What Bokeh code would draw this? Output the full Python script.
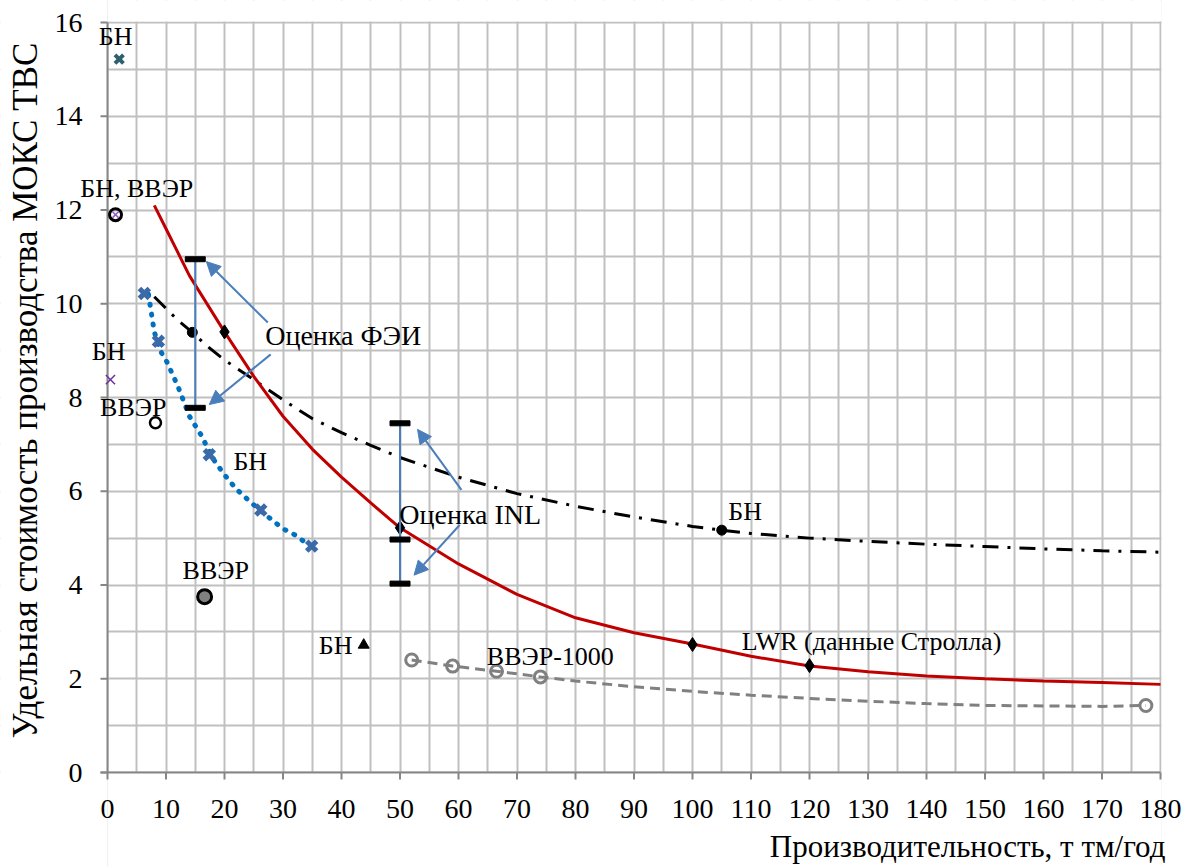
import math
from bokeh.plotting import figure
from bokeh.models import FixedTicker, Arrow, NormalHead, Label
from bokeh.core.properties import value
from bokeh.embed import file_html
from bokeh.resources import INLINE

FONT = "Liberation Serif"

# --- data ---
red_x = [8, 10, 12, 14, 16, 18, 20, 25, 30, 35, 40, 45, 50, 60, 70, 80, 90, 100, 110, 120, 130, 140, 150, 160, 170, 180]
red_y = [12.1, 11.6, 11.1, 10.6, 10.2, 9.8, 9.4, 8.45, 7.6, 6.9, 6.3, 5.75, 5.22, 4.45, 3.8, 3.3, 2.98, 2.74, 2.48, 2.27, 2.15, 2.06, 2.0, 1.95, 1.92, 1.88]
lwr_x = [20, 50, 100, 120]
lwr_y = [9.4, 5.22, 2.73, 2.28]

bn_x = [8, 10, 12, 14.5, 17, 20, 25, 30, 35, 40, 45, 50, 60, 70, 80, 90, 100, 105, 110, 120, 130, 140, 150, 160, 170, 180]
bn_y = [10.15, 9.9, 9.65, 9.39, 9.1, 8.8, 8.38, 7.95, 7.55, 7.25, 6.98, 6.72, 6.3, 5.95, 5.68, 5.45, 5.25, 5.17, 5.1, 5.0, 4.93, 4.87, 4.82, 4.77, 4.73, 4.70]
bn_pts_x = [14.5, 105]
bn_pts_y = [9.39, 5.17]

blue_x = [7, 8, 9, 10, 12, 14, 16, 18, 20, 22, 24, 26, 28, 30, 32, 34.5]
blue_y = [10.2, 9.4, 9.0, 8.8, 8.25, 7.6, 7.2, 6.7, 6.35, 6.05, 5.82, 5.6, 5.4, 5.2, 5.07, 4.85]
blue_pts_x = [6.3, 8.7, 17.4, 26.2, 34.9]
blue_pts_y = [10.22, 9.2, 6.78, 5.6, 4.83]

vver_x = [52, 59, 66.5, 74, 80, 90, 100, 110, 120, 130, 140, 150, 160, 170, 177.5]
vver_y = [2.4, 2.27, 2.16, 2.04, 1.95, 1.83, 1.73, 1.65, 1.58, 1.52, 1.47, 1.43, 1.42, 1.41, 1.43]
vver_pts_x = [52, 59, 66.5, 74, 177.5]
vver_pts_y = [2.4, 2.27, 2.16, 2.04, 1.43]

# single points
bn_star = (2.0, 15.22)
bn_vver_pt = (1.37, 11.9)
bn_cross = (0.5, 8.38)
vver_open = (8.2, 7.46)
vver_grey = (16.6, 3.75)
bn_tri = (43.8, 2.72)

# estimate ranges
fei_x = 15
fei_vals = [7.78, 10.95]
inl_x = 50
inl_vals = [4.03, 4.97, 7.45]

x_ticks = list(range(0, 181, 10))
x_minor = list(range(0, 181, 5))
y_ticks = list(range(0, 17, 2))
y_minor = list(range(0, 17, 1))
x_tick_labels = [str(v) for v in x_ticks]
y_tick_labels = [str(v) for v in y_ticks]

x_title = "Производительность, т тм/год"
y_title = "Удельная стоимость производства МОКС ТВС"

XMIN, XMAX, YMIN, YMAX = 0, 180, 0, 16

# --- geometry (pixels) ---
W, H = 1185, 866
LEFT, RIGHT, TOP, BOTTOM = 107, 1160, 22, 772
PPU = (RIGHT - LEFT) / (XMAX - XMIN)
PPY = (BOTTOM - TOP) / (YMAX - YMIN)
X0 = XMIN - LEFT / PPU
X1 = XMAX + (W - RIGHT) / PPU
Y1 = YMAX + TOP / PPY
Y0 = YMIN - (H - BOTTOM) / PPY
TX = 7 / PPU
TY = 7 / PPY

p = figure(frame_width=W, frame_height=H, x_range=(X0, X1), y_range=(Y0, Y1),
           output_backend="svg", toolbar_location=None,
           min_border_left=0, min_border_right=0, min_border_top=0, min_border_bottom=0)
p.outline_line_color = None
p.background_fill_color = "white"
p.xaxis.visible = False
p.yaxis.visible = False

GRID = "#c0c0c0"
AXC = "#868686"
p.xgrid[0].ticker = FixedTicker(ticks=x_minor)
p.ygrid[0].ticker = FixedTicker(ticks=y_minor)
for g in (p.xgrid[0], p.ygrid[0]):
    g.grid_line_color = GRID
    g.grid_line_width = 2

# blank everything outside the plotting area
e1, e2 = 1 / PPU, 1 / PPY
p.quad(left=[X0, XMAX + e1, XMIN, XMIN], right=[XMIN, X1, XMAX + e1, XMAX + e1],
       bottom=[Y0, Y0, YMAX + e2, Y0], top=[Y1, Y1, Y1, YMIN],
       fill_color="white", line_color=None)

# axes
p.segment([XMIN, -TX], [YMIN, YMIN], [XMIN, XMAX], [YMAX, YMIN], line_color=AXC, line_width=2)
p.segment([-TX] * len(y_ticks), y_ticks, [XMIN] * len(y_ticks), y_ticks, line_color=AXC, line_width=2)
p.segment(x_ticks, [-TY] * len(x_ticks), x_ticks, [YMIN] * len(x_ticks), line_color=AXC, line_width=2)
p.text([-25 / PPU] * len(y_ticks), y_ticks, text=y_tick_labels, text_font=value(FONT),
       text_font_size="28px", text_align="right", text_baseline="middle", text_color="black")
p.text(x_ticks, [-36 / PPY] * len(x_ticks), text=x_tick_labels, text_font=value(FONT),
       text_font_size="28px", text_align="center", text_baseline="middle", text_color="black")
p.add_layout(Label(x=(25 - LEFT) / PPU, y=(BOTTOM - 390) / PPY, text=y_title, angle=math.pi / 2,
                   text_font=FONT, text_font_size="35px", text_align="center",
                   text_baseline="middle", text_color="black"))
p.add_layout(Label(x=(1165 - LEFT) / PPU, y=(BOTTOM - 846) / PPY, text=x_title,
                   text_font=FONT, text_font_size="31px", text_align="right",
                   text_baseline="middle", text_color="black"))

# curves
p.line(vver_x, vver_y, line_color="#808080", line_width=3, line_dash="10 6")
p.scatter(vver_pts_x, vver_pts_y, marker="circle", size=12, line_color="#808080",
          line_width=3, fill_alpha=0)

p.line(blue_x, blue_y, line_color="#0070c0", line_width=5, line_dash="1 9", line_cap="round")
p.scatter(blue_pts_x, blue_pts_y, marker="x", size=14, line_color="#3a6aa8", line_width=5)

p.line(bn_x, bn_y, line_color="black", line_width=3, line_dash="16 9 3 9")
p.scatter(bn_pts_x, bn_pts_y, marker="circle", size=10, color="black")

p.line(red_x, red_y, line_color="#c00000", line_width=3)
p.scatter(lwr_x, lwr_y, marker="diamond", size=14, color="black")

# error-bar style estimates
BLUE = "#4a7ebb"
p.segment([fei_x, inl_x], [fei_vals[0], inl_vals[0]], [fei_x, inl_x], [fei_vals[-1], inl_vals[-1]],
          line_color=BLUE, line_width=2)
cap_x = [fei_x] * len(fei_vals) + [inl_x] * len(inl_vals)
cap_y = fei_vals + inl_vals
p.rect(cap_x, cap_y, width=20, height=5, width_units="screen", height_units="screen",
       color="black")

# single markers
p.scatter([bn_star[0]], [bn_star[1]], marker="x", size=12, line_color="#2e6170", line_width=4)
p.scatter([bn_vver_pt[0]], [bn_vver_pt[1]], marker="circle", size=12, line_color="black",
          line_width=3, fill_alpha=0)
p.scatter([bn_vver_pt[0]], [bn_vver_pt[1]], marker="x", size=9, line_color="#8e5cc9", line_width=1.5)
p.scatter([bn_cross[0]], [bn_cross[1]], marker="x", size=13, line_color="#7030a0", line_width=1.5)
p.scatter([vver_open[0]], [vver_open[1]], marker="circle", size=11, line_color="black",
          line_width=2.5, fill_color="white")
p.scatter([vver_grey[0]], [vver_grey[1]], marker="circle", size=14, line_color="black",
          line_width=3, fill_color="#808080")
p.scatter([bn_tri[0]], [bn_tri[1]], marker="triangle", size=11, color="black")

# arrows
arrows = [((27.4, 9.6), (16.9, 10.9)), ((27.9, 8.92), (17.4, 7.85)),
          ((60.5, 6.03), (53.0, 7.32)), ((60.2, 5.28), (52.4, 4.21))]
for (x0, y0), (x1, y1) in arrows:
    p.add_layout(Arrow(x_start=x0, y_start=y0, x_end=x1, y_end=y1, line_color=BLUE, line_width=2,
                       end=NormalHead(size=14, fill_color=BLUE, line_color=BLUE)))

labels = [
    ("БН", 1.4, 15.7, 26), ("БН, ВВЭР", 5.0, 12.45, 26), ("БН", 0.2, 8.98, 26),
    ("ВВЭР", 4.4, 7.79, 26), ("БН", 24.4, 6.63, 26), ("ВВЭР", 18.5, 4.32, 26),
    ("БН", 39.0, 2.72, 26), ("ВВЭР-1000", 75.7, 2.48, 26), ("LWR (данные Стролла)", 130.6, 2.8, 26),
    ("БН", 109.0, 5.56, 26), ("Оценка ФЭИ", 40.3, 9.33, 28), ("Оценка INL", 62.0, 5.5, 28),
]
for t, x, y, fs in labels:
    p.add_layout(Label(x=x, y=y, text=t, text_font=FONT, text_font_size=f"{fs}px",
                       text_align="center", text_baseline="middle", text_color="black"))

open("out.html", "w").write(file_html(p, INLINE))
